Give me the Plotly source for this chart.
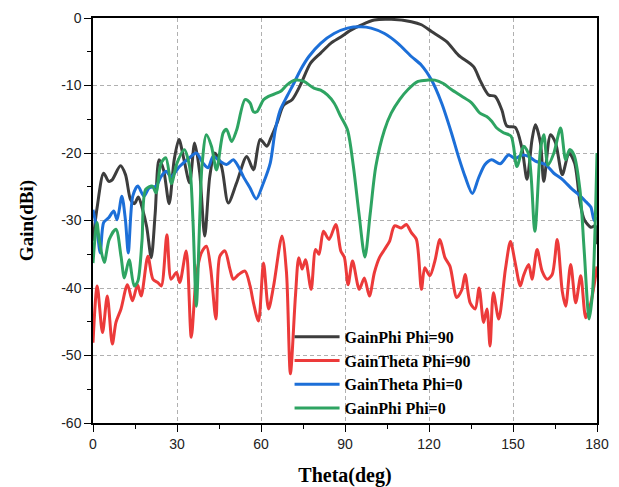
import plotly.graph_objects as go

# Gain pattern data (theta in deg, gain in dBi)
theta_phi90 = [0, 1.5, 3.8, 5.6, 6.8, 9.8, 11.6, 13.4, 14.8, 16.2,
               17.8, 19.2, 20.8, 22.2, 23.6, 25.2, 27.2, 29, 30.7, 32.5,
               34.5, 36.3, 38.1, 39.9, 41.7, 43.5, 45.9, 48.3, 51.3, 54.9,
               57.3, 59.7, 62.1, 63.5, 65.7, 68.1, 71.1, 74.1, 77.7, 81.3,
               84.9, 88.5, 92.1, 95.7, 100.5, 106.5, 113.7, 117.3, 120.9, 126.3,
               130.5, 135.9, 138.2, 141.3, 143.6, 146, 147.8, 150.8, 153.2, 155,
               156.8, 158, 159.8, 161, 163.4, 165.2, 167.6, 170, 172, 174,
               175.5, 177.8, 179.4, 180]
gainphi_phi90 = [-33, -28, -23, -24.2, -24, -21.9, -23.2, -26.9, -27.5, -26.5,
                 -28.5, -31, -35.5, -29, -21, -22.5, -27.5, -21, -18, -21,
                 -24.4, -18.5, -22.9, -32.3, -23.5, -20, -22, -27.4, -24.4, -20.5,
                 -22.5, -18, -19, -17.8, -15.6, -12.9, -12.1, -9.9, -6.7, -5.2,
                 -3.75, -2.8, -1.8, -1.05, -0.3, -0.2, -0.55, -1.0, -2.0, -3.5,
                 -5.5, -7.2, -9.2, -11.4, -11.6, -13.6, -16, -16.2, -19.3, -23.9,
                 -18, -15.8, -18.5, -24.2, -17.3, -18.5, -23.2, -20, -21.5, -27.5,
                 -29.9, -31, -30.8, -33.5]

theta_red = [0, 1.5, 3.4, 5.1, 6.9, 8.2, 10, 12.3, 14.1, 15.9,
             17.2, 19.6, 21.4, 23.2, 24.4, 26.4, 27.9, 29.8, 31, 33.3,
             35.1, 36.9, 38.7, 40.5, 42, 43.9, 45.3, 47.1, 48.9, 50.1,
             52, 54.3, 56.1, 57.3, 59.1, 60.9, 62.7, 64.5, 67.5, 69.1,
             70.5, 72.3, 73.5, 74.7, 75.9, 77.9, 79.5, 80.7, 82.3, 84.3,
             86.7, 88.5, 89.8, 91.1, 92.7, 95.1, 96.9, 98.7, 100.5, 102.3,
             104.1, 105.9, 107.7, 110.1, 111.9, 113.7, 115.5, 117.3, 118.5, 120.3,
             122.1, 123.9, 125.7, 127.5, 129.9, 131.7, 132.9, 134.7, 136.5, 137.9,
             139.5, 140.7, 141.8, 143, 144.9, 147.3, 149.1, 150.8, 152.6, 153.8,
             155.6, 156.8, 158.6, 160.4, 162.2, 164, 165.8, 167.6, 168.8, 170.6,
             172.4, 174.2, 176, 177.8, 180]
gaintheta_phi90 = [-48.1, -39.7, -46.6, -41.2, -48.3, -45.1, -43.1, -39.5, -41.9, -39.5,
                   -41.2, -35.3, -38.7, -39.2, -39.7, -32.1, -38.7, -37.7, -39.2, -34.5,
                   -47.3, -38.2, -34.8, -33.8, -37, -44.6, -35.3, -34.5, -37.2, -38.7,
                   -38, -37.5, -39.7, -42.2, -44.9, -36.3, -43.1, -39.7, -32.3, -37.7,
                   -52.7, -41.2, -35.5, -37.2, -35.8, -40.2, -34.3, -35, -31.6, -32.8,
                   -30.6, -34.5, -35.5, -39.5, -36, -40.2, -38.5, -41.2, -37.7, -35.5,
                   -34.3, -33.1, -30.8, -31.1, -30.6, -31.8, -32.8, -40.2, -37, -38.2,
                   -36, -32.8, -35.5, -36.8, -41.4, -40.3, -38, -42.2, -43.1, -40,
                   -45.1, -43.1, -48.6, -40.7, -44.6, -37.2, -33.1, -36.3, -39.7, -38.1,
                   -36.5, -38.7, -34.3, -37.5, -38.7, -38, -32.8, -40.5, -42.7, -36.5,
                   -42.2, -38.2, -44.4, -42.2, -36.8]

theta_blue = [0, 1.4, 2.6, 3.8, 5.6, 7.4, 8.6, 10.3, 11.6, 12.6,
              14.2, 16, 18.2, 20, 22.5, 24.3, 26.1, 27.9, 30.9, 34.5,
              36.9, 39.3, 41.1, 42.9, 45.3, 47.7, 50.1, 51.9, 53.7, 56.1,
              58.3, 60.9, 63.3, 65.1, 66.9, 69.3, 71.7, 74.1, 77.1, 81.3,
              86.1, 90.9, 95.7, 99.3, 104.1, 108.9, 113.7, 117.3, 120.9, 124.5,
              128, 130.5, 132.9, 135.5, 137.7, 140, 142.4, 145.4, 148.4, 150.8,
              153.2, 155.6, 158, 161.6, 164.6, 167.6, 171.2, 173.6, 176, 177.8,
              179, 180]
gaintheta_phi0 = [-28.4, -31.3, -34.8, -30.3, -29.6, -28.6, -29.9, -26.4, -30, -34.8,
                  -26.4, -24.9, -26.4, -25.2, -24.9, -23.5, -22.7, -23.5, -22, -20.7,
                  -20, -21.5, -22.2, -20.5, -21.2, -21.7, -21, -22, -23.5, -25.2,
                  -26.8, -24.4, -21.5, -16.6, -13.6, -11.6, -9.7, -7.7, -5.7, -3.75,
                  -2.3, -1.5, -1.3, -1.5, -2.3, -3.75, -5.7, -7.0, -9.2, -12.6,
                  -17, -20.5, -23.5, -26.0, -23.7, -21.7, -21, -21.6, -20.3, -20.8,
                  -20.3, -20.5, -21.2, -21.7, -23, -23.9, -25.4, -26.2, -27.2, -28,
                  -30, -29.5]

theta_green = [0, 1.4, 2.2, 4, 5.8, 8.2, 10, 11.2, 12.9, 14.7,
               16, 17.5, 18.8, 21.2, 22.5, 24.3, 26, 28, 30, 32.6,
               34.5, 35.7, 36.9, 38.1, 38.9, 40.5, 42.3, 44.1, 46.5, 47.7,
               49.5, 51.3, 54.3, 56.1, 57.3, 58.5, 60.9, 62.7, 66.9, 69.3,
               72.3, 75.3, 78.9, 81.3, 83.7, 86.1, 88.5, 90.9, 93, 95,
               97.1, 99, 101, 104.1, 106.5, 109.5, 112.5, 116.1, 119.7, 122.1,
               125.1, 128, 131.7, 135.3, 138.2, 140.6, 142.4, 144.2, 146.6, 149.3,
               151.4, 153.8, 155.6, 157.8, 159.8, 161, 162.5, 164.6, 167, 168.8,
               170.2, 171.8, 173.9, 175.4, 177.2, 178.4, 179.6, 180]
gainphi_phi0 = [-36.3, -30.3, -32.8, -36.2, -32.8, -31.3, -35.3, -38.5, -35.8, -39.7,
                -39, -33, -25.4, -24.9, -25.9, -21.5, -20.7, -24.5, -21.5, -19.5,
                -22, -30, -42.7, -30, -22, -17.3, -19, -22.5, -17, -16.5,
                -18.3, -16.6, -12.1, -12.6, -13.9, -13.9, -12.1, -11.6, -10.9, -9.9,
                -9.2, -9.4, -10.4, -10.7, -11.4, -12.6, -14.6, -16.6, -22, -29,
                -35.4, -29, -22, -16.6, -14.1, -12.1, -10.6, -9.4, -9.2, -9.2,
                -9.7, -10.6, -11.6, -12.6, -14.1, -14.6, -15.3, -16.3, -17, -17.5,
                -22, -19, -20.2, -31.6, -19.5, -17.3, -21.8, -20, -16.3, -21,
                -19.5, -20.3, -25.4, -34.3, -44.6, -40.7, -26.9, -20]

x_ticks = [0, 30, 60, 90, 120, 150, 180]
y_ticks = [0, -10, -20, -30, -40, -50, -60]

series = [
    ("GainPhi Phi=90", theta_phi90, gainphi_phi90, "#3d3d3d"),
    ("GainTheta Phi=90", theta_red, gaintheta_phi90, "#ec3a3a"),
    ("GainTheta Phi=0", theta_blue, gaintheta_phi0, "#1c6fd8"),
    ("GainPhi Phi=0", theta_green, gainphi_phi0, "#2ea462"),
]

fig = go.Figure()
for name, th, g, col in series:
    assert len(th) == len(g), name
    fig.add_trace(go.Scatter(x=th, y=g, mode="lines", name=name,
                             line=dict(color=col, width=3, shape="spline", smoothing=0.8)))

serif_bold = dict(family="Liberation Serif, Times New Roman", color="black", weight="bold")
axis_common = dict(showline=True, linecolor="black", linewidth=1.5, mirror=True,
                   ticks="outside", ticklen=7, tickwidth=1.2, tickcolor="black",
                   showgrid=True, gridcolor="#b0b0b0", griddash="4px,3px", gridwidth=1,
                   zeroline=False, automargin=False,
                   tickfont=dict(family="Liberation Sans, Arial", size=14, color="#222"))

fig.update_xaxes(range=[0, 180], tickvals=x_ticks, ticktext=[str(v) for v in x_ticks],
                 minor=dict(dtick=15, ticks="outside", ticklen=4, tickcolor="black", showgrid=False),
                 title=dict(text="Theta(deg)", standoff=22, font=dict(size=20, **serif_bold)),
                 **axis_common)
fig.update_yaxes(range=[-60, 0], tickvals=y_ticks, ticktext=[str(v) for v in y_ticks],
                 minor=dict(dtick=5, ticks="outside", ticklen=4, tickcolor="black", showgrid=False),
                 title=dict(text="Gain(dBi)", standoff=23, font=dict(size=19, **serif_bold)),
                 **axis_common)

# page body keeps an 8px margin, so the figure is 8px smaller than the window
fig.update_layout(
    width=611, height=479,
    margin=dict(l=85, r=22, t=10, b=64),
    plot_bgcolor="white", paper_bgcolor="white",
    legend=dict(x=0.39, y=0.255, xanchor="left", yanchor="top",
                bgcolor="rgba(0,0,0,0)", itemwidth=45,
                font=dict(size=16, **serif_bold)),
)

fig.write_html("out.html")
